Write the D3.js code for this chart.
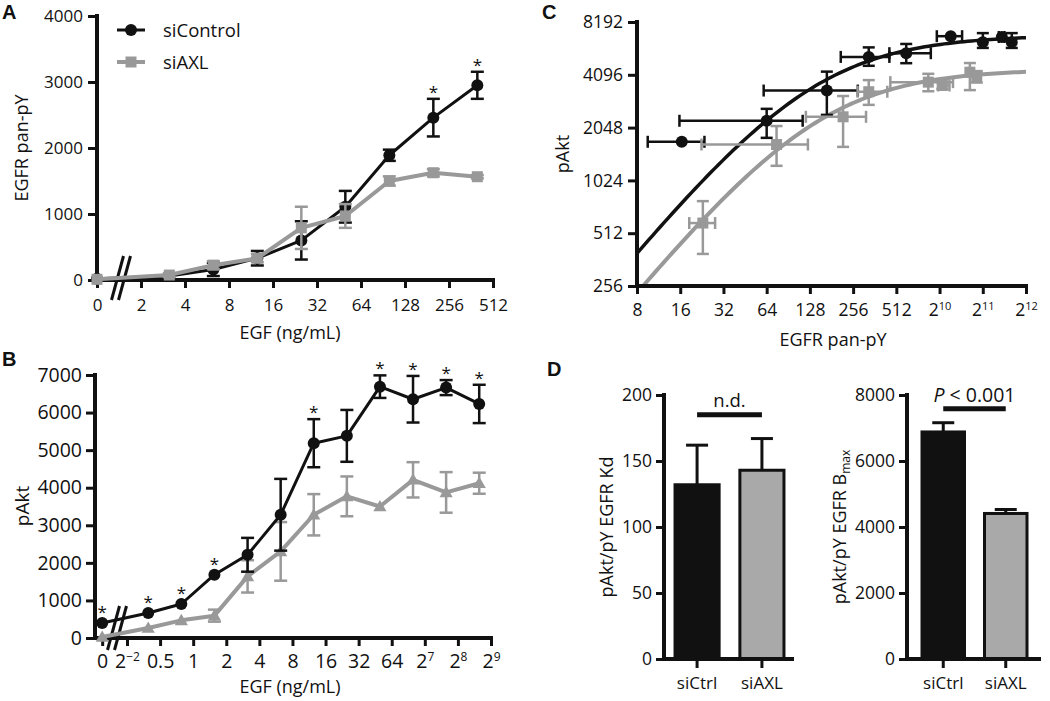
<!DOCTYPE html>
<html>
<head>
<meta charset="utf-8">
<script src="https://cdn.jsdelivr.net/npm/d3@7"></script>
<style>
  body { margin: 0; background: #fff; }
  text { font-family: "Open Sans", sans-serif; fill: #111; }
</style>
</head>
<body>
<svg id="fig" width="1050" height="701"></svg>
<script>
// ---- panel A: EGFR pan-pY vs EGF dose ----
const doseA = [0, 3.125, 6.25, 12.5, 25, 50, 100, 200, 400];
const ctrlA = [20, 60, 160, 330, 600, 1110, 1890, 2460, 2950];
const ctrlAErr = [0, 0, 100, 110, 290, 240, 85, 285, 205];
const axlA = [10, 75, 225, 330, 790, 970, 1500, 1625, 1565];
const axlAErr = [0, 30, 60, 60, 320, 180, 70, 55, 25];
const starsA = [200, 400];
const ticksAX = [0, 2, 4, 8, 16, 32, 64, 128, 256, 512];
const labelsAX = ["0", "2", "4", "8", "16", "32", "64", "128", "256", "512"];
const ticksAY = [0, 1000, 2000, 3000, 4000];

// ---- panel B: pAkt vs EGF dose ----
const doseB = [0, 0.39, 0.78, 1.56, 3.125, 6.25, 12.5, 25, 50, 100, 200, 400];
const ctrlB = [400, 665, 905, 1685, 2215, 3280, 5185, 5380, 6690, 6355, 6665, 6230];
const ctrlBErr = [0, 0, 0, 0, 450, 955, 640, 690, 300, 620, 200, 510];
const axlB = [25, 265, 470, 595, 1640, 2305, 3280, 3770, 3500, 4210, 3875, 4120];
const axlBErr = [0, 0, 0, 160, 430, 780, 550, 530, 0, 470, 540, 280];
const starsB = [0, 0.39, 0.78, 1.56, 12.5, 50, 100, 200, 400];
const ticksBX = [0, 0.25, 0.5, 1, 2, 4, 8, 16, 32, 64, 128, 256, 512];
const labelsBX = ["0", "2^\u22122", "0.5", "1", "2", "4", "8", "16", "32", "64", "2^7", "2^8", "2^9"];
const ticksBY = [0, 1000, 2000, 3000, 4000, 5000, 6000, 7000];

// ---- panel C: pAkt vs EGFR pan-pY ----
const ctrlCx = [16.4, 64, 168, 329, 600, 1225, 2050, 2780, 3260];
const ctrlCxLo = [9.5, 15.8, 61, 210, 458, 980, 2050, 2650, 3260];
const ctrlCxHi = [23.6, 114, 276, 458, 890, 1470, 2050, 2900, 3260];
const ctrlCy = [1700, 2240, 3330, 5180, 5440, 6800, 6290, 6730, 6290];
const ctrlCyLo = [1700, 1790, 2420, 4610, 4770, 6800, 5830, 6730, 5830];
const ctrlCyHi = [1700, 2620, 4270, 5870, 6140, 6800, 7080, 6730, 7080];
const axlCx = [23, 75, 218, 329, 855, 1070, 1665, 1860];
const axlCxLo = [18.5, 22.5, 120, 275, 465, 1000, 1665, 1860];
const axlCxHi = [28, 124, 315, 443, 1270, 1200, 1665, 1860];
const axlCy = [585, 1640, 2360, 3280, 3720, 3560, 4240, 3980];
const axlCyLo = [390, 1240, 1590, 2760, 3300, 3400, 3350, 3700];
const axlCyHi = [780, 2090, 3100, 3820, 4150, 3720, 4780, 4300];
const ticksCX = [8, 16, 32, 64, 128, 256, 512, 1024, 2048, 4096];
const labelsCX = ["8", "16", "32", "64", "128", "256", "512", "2^10", "2^11", "2^12"];
const ticksCY = [256, 512, 1024, 2048, 4096, 8192];

// ---- panel D: fit parameters ----
const groupsD = ["siCtrl", "siAXL"];
const kdMean = [132, 143];
const kdErr = [30, 24];
const bmaxMean = [6880, 4410];
const bmaxErr = [280, 120];
const ticksKd = [0, 50, 100, 150, 200];
const ticksBmax = [0, 2000, 4000, 6000, 8000];

const BLACK = "#111111";
const GRAY = "#999999";
const BAR_GRAY = "#a9a9a9";
const TICK_FONT = 17;
const TITLE_FONT = 18;
const plain = d3.format("d");

const svg = d3.select("#fig");

// restyle a d3 axis: no domain, thick ticks, bigger labels
function styleAxis(g, size) {
  g.attr("font-family", null).attr("font-size", size || TICK_FONT);
  g.select(".domain").remove();
  g.selectAll(".tick line").attr("stroke", BLACK).attr("stroke-width", 3);
  g.selectAll(".tick text").attr("fill", BLACK);
}

// "2^7" style labels become base + superscript tspans
function superLabels(g, size) {
  g.selectAll(".tick text").each(function () {
    const t = d3.select(this);
    const s = t.text();
    if (s.indexOf("^") < 0) return;
    const parts = s.split("^");
    t.text(null);
    t.append("tspan").text(parts[0]);
    t.append("tspan").attr("font-size", size || 11).attr("dy", "-0.55em").text(parts[1]);
  });
}

function axisFrame(g, x, yTop, yBot, xEnd) {
  g.append("line")
    .attr("x1", x).attr("x2", x).attr("y1", yTop).attr("y2", yBot)
    .attr("stroke", BLACK).attr("stroke-width", 4).attr("stroke-linecap", "square");
  g.append("line")
    .attr("x1", x).attr("x2", xEnd).attr("y1", yBot).attr("y2", yBot)
    .attr("stroke", BLACK).attr("stroke-width", 4).attr("stroke-linecap", "square");
}

function axisBreak(g, cx, cy) {
  [-3.5, 3.5].forEach((off) => {
    g.append("line")
      .attr("x1", cx + off - 6).attr("y1", cy + 22)
      .attr("x2", cx + off + 6).attr("y2", cy - 22)
      .attr("stroke", BLACK).attr("stroke-width", 3);
  });
}

function yTitle(g, text, x, y) {
  return g.append("text")
    .attr("transform", `translate(${x},${y}) rotate(-90)`)
    .attr("text-anchor", "middle").attr("dy", "0.35em")
    .attr("font-size", TITLE_FONT).text(text);
}

function panelLetter(g, letter, x, y) {
  g.append("text").attr("x", x).attr("y", y)
    .style("font-family", "'Liberation Sans', Arial, sans-serif")
    .attr("font-weight", "bold").attr("font-size", 20).text(letter);
}

function marker(g, shape, x, y, color) {
  if (shape === "circle") {
    g.append("circle").attr("cx", x).attr("cy", y).attr("r", 6).attr("fill", color);
  } else if (shape === "square") {
    g.append("rect").attr("x", x - 5.5).attr("y", y - 5.5)
      .attr("width", 11).attr("height", 11).attr("fill", color);
  } else {
    g.append("path").attr("d", d3.symbol(d3.symbolTriangle, 75)())
      .attr("transform", `translate(${x},${y + 1})`).attr("fill", color);
  }
}

function vErr(g, x, y1, y2, color, cap) {
  g.append("line").attr("x1", x).attr("x2", x).attr("y1", y1).attr("y2", y2)
    .attr("stroke", color).attr("stroke-width", 2.5);
  [y1, y2].forEach((yy) => {
    g.append("line").attr("x1", x - cap).attr("x2", x + cap).attr("y1", yy).attr("y2", yy)
      .attr("stroke", color).attr("stroke-width", 2.5);
  });
}

function hErr(g, y, x1, x2, color, cap) {
  g.append("line").attr("x1", x1).attr("x2", x2).attr("y1", y).attr("y2", y)
    .attr("stroke", color).attr("stroke-width", 2.5);
  [x1, x2].forEach((xx) => {
    g.append("line").attr("x1", xx).attr("x2", xx).attr("y1", y - cap).attr("y2", y + cap)
      .attr("stroke", color).attr("stroke-width", 2.5);
  });
}

// dose-response series with symmetric error bars
function doseSeries(g, doses, vals, errs, xPos, y, color, lineW, shape) {
  doses.forEach((d, i) => {
    if (errs[i] > 0) vErr(g, xPos(d), y(vals[i] - errs[i]), y(vals[i] + errs[i]), color, 6.5);
  });
  g.append("path")
    .datum(doses.map((d, i) => [xPos(d), y(vals[i])]))
    .attr("d", d3.line())
    .attr("fill", "none").attr("stroke", color).attr("stroke-width", lineW)
    .attr("stroke-linejoin", "round");
  doses.forEach((d, i) => marker(g, shape, xPos(d), y(vals[i]), color));
}

function stars(g, list, doses, vals, errs, xPos, y, gap) {
  list.forEach((d) => {
    const i = doses.indexOf(d);
    const top = y(vals[i] + errs[i]) - (errs[i] > 0 ? gap : gap + 4);
    g.append("text").attr("x", xPos(d)).attr("y", top + 9)
      .attr("text-anchor", "middle").attr("font-size", 17).text("*");
  });
}

// ================= Panel A =================
function drawA() {
  const g = svg.append("g");
  const xA = d3.scaleLog().base(2).domain([1, 512]).range([97, 493]);
  const yA = d3.scaleLinear().domain([0, 4000]).range([280, 16]);
  const xPos = (d) => xA(d === 0 ? 1 : d);

  g.append("g").attr("transform", `translate(${xA(1)},0)`)
    .call(d3.axisLeft(yA).tickValues(ticksAY).tickFormat(plain)
      .tickSize(9).tickPadding(5).tickSizeOuter(0))
    .call(styleAxis);
  g.append("g").attr("transform", `translate(0,${yA(0)})`)
    .call(d3.axisBottom(xA).tickValues(ticksAX.map((d) => (d === 0 ? 1 : d)))
      .tickFormat((d, i) => labelsAX[i]).tickSize(8).tickPadding(11).tickSizeOuter(0))
    .call(styleAxis);
  axisFrame(g, xA(1), yA(4000), yA(0), xA(512));
  axisBreak(g, 121, 278);

  doseSeries(g, doseA, ctrlA, ctrlAErr, xPos, yA, BLACK, 3, "circle");
  doseSeries(g, doseA, axlA, axlAErr, xPos, yA, GRAY, 4, "square");
  stars(g, starsA, doseA, ctrlA, ctrlAErr, xPos, yA, 10);

  // legend
  [["siControl", BLACK, "circle", 3], ["siAXL", GRAY, "square", 4]].forEach((row, i) => {
    const ly = 30 + i * 32;
    g.append("line").attr("x1", 117).attr("x2", 145).attr("y1", ly).attr("y2", ly)
      .attr("stroke", row[1]).attr("stroke-width", row[3]);
    marker(g, row[2], 131, ly, row[1]);
    g.append("text").attr("x", 163).attr("y", ly + 7).attr("font-size", 18.5).text(row[0]);
  });

  yTitle(g, "EGFR pan-pY", 22, 148);
  g.append("text").attr("x", 290).attr("y", 339).attr("text-anchor", "middle")
    .attr("font-size", TITLE_FONT).text("EGF (ng/mL)");
  panelLetter(g, "A", 2, 19);
}

// ================= Panel B =================
function drawB() {
  const g = svg.append("g");
  const xB = d3.scaleLog().base(2).domain([0.25, 512]).range([127, 491]);
  const yB = d3.scaleLinear().domain([0, 7000]).range([638, 375]);
  const zeroAt = Math.pow(2, -2.75);
  const xPos = (d) => xB(d === 0 ? zeroAt : d);
  const axisX = 95;

  g.append("g").attr("transform", `translate(${axisX},0)`)
    .call(d3.axisLeft(yB).tickValues(ticksBY).tickFormat(plain)
      .tickSize(9).tickPadding(4).tickSizeOuter(0))
    .call(styleAxis, 19.5);
  g.append("g").attr("transform", `translate(0,${yB(0)})`)
    .call(d3.axisBottom(xB).tickValues(ticksBX.map((d) => (d === 0 ? zeroAt : d)))
      .tickFormat((d, i) => labelsBX[i]).tickSize(8).tickPadding(8).tickSizeOuter(0))
    .call(styleAxis, 19.5).call(superLabels, 12);
  axisFrame(g, axisX, yB(7000), yB(0), xB(512));
  axisBreak(g, 117, 628);

  doseSeries(g, doseB, axlB, axlBErr, xPos, yB, GRAY, 4, "triangle");
  doseSeries(g, doseB, ctrlB, ctrlBErr, xPos, yB, BLACK, 3, "circle");
  stars(g, starsB, doseB, ctrlB, ctrlBErr, xPos, yB, 10);

  yTitle(g, "pAkt", 22, 506).attr("font-size", 19);
  g.append("text").attr("x", 290).attr("y", 693).attr("text-anchor", "middle")
    .attr("font-size", TITLE_FONT).text("EGF (ng/mL)");
  panelLetter(g, "B", 2, 366);
}

// ================= Panel C =================
function drawC() {
  const g = svg.append("g");
  const xC = d3.scaleLog().base(2).domain([8, 4096]).range([637, 1026]);
  const yC = d3.scaleLog().base(2).domain([256, 8192]).range([286, 22]);

  g.append("g").attr("transform", `translate(${xC(8)},0)`)
    .call(d3.axisLeft(yC).tickValues(ticksCY).tickFormat(plain)
      .tickSize(9).tickPadding(5).tickSizeOuter(0))
    .call(styleAxis, 17.5);
  g.append("g").attr("transform", `translate(0,${yC(256)})`)
    .call(d3.axisBottom(xC).tickValues(ticksCX).tickFormat((d, i) => labelsCX[i])
      .tickSize(8).tickPadding(10).tickSizeOuter(0))
    .call(styleAxis, 17.5).call(superLabels, 11);

  svg.append("clipPath").attr("id", "clipC").append("rect")
    .attr("x", xC(8)).attr("y", yC(8192) - 10).attr("width", xC(4096) - xC(8) + 4)
    .attr("height", yC(256) - yC(8192) + 10);

  // fitted hyperbolas from panel D parameters
  const fitX = d3.range(0, 101).map((k) => 8 * Math.pow(2, (9 * k) / 100));
  [[0, BLACK, 3.5], [1, GRAY, 4]].forEach(([gi, color, w]) => {
    g.append("path")
      .datum(fitX.map((x) => [xC(x), yC(Math.max(200, (bmaxMean[gi] * x) / (kdMean[gi] + x)))]))
      .attr("d", d3.line()).attr("clip-path", "url(#clipC)")
      .attr("fill", "none").attr("stroke", color).attr("stroke-width", w);
  });

  function pts(xs, xlo, xhi, ys, ylo, yhi, color, shape) {
    xs.forEach((x, i) => {
      if (xhi[i] > xlo[i]) hErr(g, yC(ys[i]), xC(xlo[i]), xC(xhi[i]), color, 6);
      if (yhi[i] > ylo[i]) vErr(g, xC(x), yC(ylo[i]), yC(yhi[i]), color, 6);
      marker(g, shape, xC(x), yC(ys[i]), color);
    });
  }
  pts(ctrlCx, ctrlCxLo, ctrlCxHi, ctrlCy, ctrlCyLo, ctrlCyHi, BLACK, "circle");
  pts(axlCx, axlCxLo, axlCxHi, axlCy, axlCyLo, axlCyHi, GRAY, "square");

  axisFrame(g, xC(8), yC(8192), yC(256), xC(4096));

  yTitle(g, "pAkt", 563, 154);
  g.append("text").attr("x", 833).attr("y", 346).attr("text-anchor", "middle")
    .attr("font-size", TITLE_FONT).text("EGFR pan-pY");
  panelLetter(g, "C", 542, 19);
}

// ================= Panel D =================
function barPanel(g, x0, x1, yMax, ticks, means, errs, outer) {
  const x = d3.scaleBand().domain(groupsD).range([x0, x1])
    .paddingInner(0.32).paddingOuter(outer);
  const y = d3.scaleLinear().domain([0, yMax]).range([659, 395]);

  g.append("g").attr("transform", `translate(${x0},0)`)
    .call(d3.axisLeft(y).tickValues(ticks).tickFormat(plain)
      .tickSize(8).tickPadding(4).tickSizeOuter(0))
    .call(styleAxis, 17.5);
  g.append("g").attr("transform", `translate(0,${y(0)})`)
    .call(d3.axisBottom(x).tickSize(9).tickPadding(9).tickSizeOuter(0))
    .call(styleAxis);

  groupsD.forEach((grp, i) => {
    const cx = x(grp) + x.bandwidth() / 2;
    const top = y(means[i]);
    const eTop = y(means[i] + errs[i]);
    g.append("line").attr("x1", cx).attr("x2", cx).attr("y1", top).attr("y2", eTop)
      .attr("stroke", BLACK).attr("stroke-width", 3);
    g.append("line").attr("x1", cx - 11).attr("x2", cx + 11).attr("y1", eTop).attr("y2", eTop)
      .attr("stroke", BLACK).attr("stroke-width", 3);
    g.append("rect").attr("x", x(grp)).attr("y", top)
      .attr("width", x.bandwidth()).attr("height", y(0) - top)
      .attr("fill", i === 0 ? BLACK : BAR_GRAY).attr("stroke", BLACK).attr("stroke-width", 3);
  });
  axisFrame(g, x0, y(yMax), y(0), x1 - 3);
  return { x, y };
}

function drawD() {
  const g = svg.append("g");
  const left = barPanel(g, 664, 795, 200, ticksKd, kdMean, kdErr, 0.17);
  const right = barPanel(g, 907, 1042, 8000, ticksBmax, bmaxMean, bmaxErr, 0.24);

  const c = (s, grp) => s.x(grp) + s.x.bandwidth() / 2;
  // significance bars
  g.append("line").attr("x1", c(left, "siCtrl")).attr("x2", c(left, "siAXL"))
    .attr("y1", left.y(185)).attr("y2", left.y(185))
    .attr("stroke", BLACK).attr("stroke-width", 5);
  g.append("text").attr("x", (c(left, "siCtrl") + c(left, "siAXL")) / 2).attr("y", left.y(191))
    .attr("text-anchor", "middle").attr("font-size", 18.5).text("n.d.");
  g.append("line").attr("x1", c(right, "siCtrl")).attr("x2", c(right, "siAXL"))
    .attr("y1", right.y(7580)).attr("y2", right.y(7580))
    .attr("stroke", BLACK).attr("stroke-width", 5);
  const pt = g.append("text").attr("x", (c(right, "siCtrl") + c(right, "siAXL")) / 2)
    .attr("y", right.y(7800)).attr("text-anchor", "middle").attr("font-size", 19.5);
  pt.append("tspan").attr("font-style", "italic").text("P");
  pt.append("tspan").text(" < 0.001");

  yTitle(g, "pAkt/pY EGFR Kd", 607, 527);
  const t = yTitle(g, "pAkt/pY EGFR B", 840, 527);
  t.append("tspan").attr("font-size", 12).attr("dy", "0.3em").text("max");
  panelLetter(g, "D", 547, 376);
}

drawA();
drawB();
drawC();
drawD();
</script>
</body>
</html>
